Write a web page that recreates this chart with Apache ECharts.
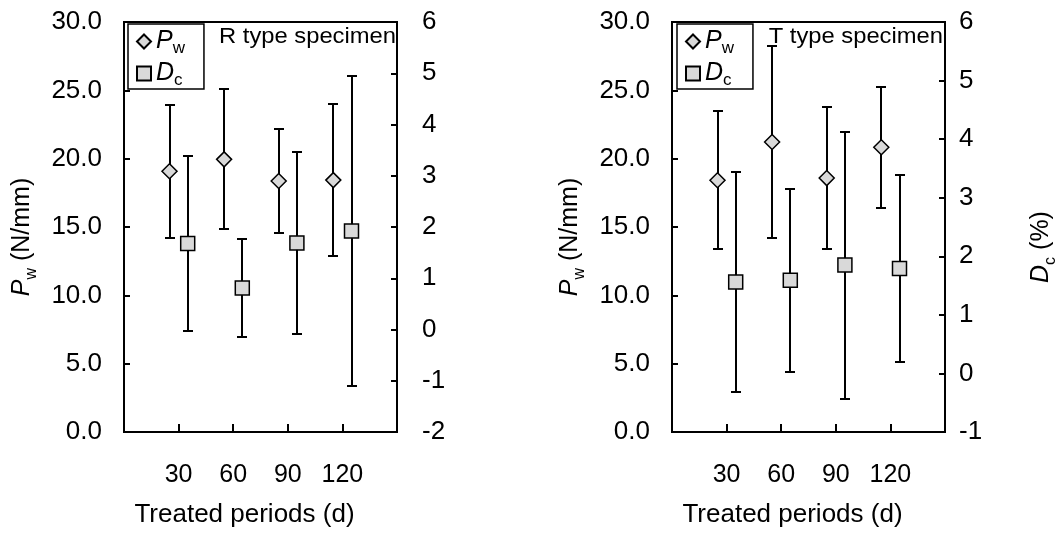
<!DOCTYPE html>
<html>
<head>
<meta charset="utf-8">
<script src="https://cdn.jsdelivr.net/npm/echarts@6/dist/echarts.min.js"></script>
<style>
  html, body { margin: 0; padding: 0; background: #fff; }
  #chart { width: 1062px; height: 535px; }
</style>
</head>
<body>
<div id="chart"></div>
<script>
// Treated periods (days)
const periods = [30, 60, 90, 120];

// R type specimen: peel strength Pw (N/mm) and change Dc (%), mean and spread
const rPwMean = [19.08, 19.95, 18.37, 18.43];
const rPwSd   = [4.85, 5.12, 3.83, 5.57];
const rDcMean = [1.68, 0.81, 1.69, 1.92];
const rDcSd   = [1.71, 0.96, 1.77, 3.02];

// T type specimen
const tPwMean = [18.42, 21.22, 18.58, 20.84];
const tPwSd   = [5.05, 7.05, 5.17, 4.43];
const tDcMean = [1.56, 1.59, 1.85, 1.79];
const tDcSd   = [1.88, 1.56, 2.28, 1.60];

const FONT = '"Liberation Sans", Arial, sans-serif';
const FILL = '#d9d9d9';
const SHIFT = 5; // Pw drawn left of each period, Dc to the right

// Italic symbol with a lowered subscript
const legendRich = {
  i: { fontStyle: 'italic', fontSize: 25, lineHeight: 28, fontFamily: FONT, color: '#000', verticalAlign: 'middle' },
  s: { fontSize: 17, lineHeight: 14, fontFamily: FONT, color: '#000', padding: [14, 0, 0, 0], verticalAlign: 'middle' }
};
const nameRich = {
  i: { fontStyle: 'italic', fontSize: 25, fontFamily: FONT, color: '#000', padding: [0, 0, 5, 0], verticalAlign: 'bottom' },
  s: { fontSize: 16, fontFamily: FONT, color: '#000', verticalAlign: 'bottom' },
  n: { fontSize: 25, fontFamily: FONT, color: '#000', padding: [0, 0, 5, 0], verticalAlign: 'bottom' }
};

// Vertical whisker with end caps, snapped to whole pixels so the 2px strokes stay crisp
function errRender(params, api) {
  const x = api.value(0), lo = api.value(1), hi = api.value(2);
  const a = api.coord([x, hi]), b = api.coord([x, lo]);
  const cx = Math.round(a[0]), ya = Math.round(a[1]), yb = Math.round(b[1]);
  const hw = 5;
  const style = { stroke: '#000', lineWidth: 2, fill: null };
  return {
    type: 'group',
    children: [
      { type: 'line', shape: { x1: cx, y1: ya, x2: cx, y2: yb }, style },
      { type: 'line', shape: { x1: cx - hw, y1: ya, x2: cx + hw, y2: ya }, style },
      { type: 'line', shape: { x1: cx - hw, y1: yb, x2: cx + hw, y2: yb }, style }
    ]
  };
}

const panels = [
  { left: 124, pw: [rPwMean, rPwSd], dc: [rDcMean, rDcSd], dcMin: -2, rightMargin: 25, rightName: '', legendLeft: 128 },
  { left: 672, pw: [tPwMean, tPwSd], dc: [tDcMean, tDcSd], dcMin: -1, rightMargin: 14, rightName: '{i|D}{s|c}{n| (%)}', legendLeft: 677 }
];

const grid = [], xAxis = [], yAxis = [], series = [], legend = [];

panels.forEach((p, k) => {
  grid.push({ left: p.left, top: 22, width: 273, height: 410, show: true, borderColor: '#000', borderWidth: 2, backgroundColor: 'transparent' });

  xAxis.push({
    gridIndex: k, type: 'value', min: 0, max: 150, interval: 30,
    axisLine: { show: true, lineStyle: { color: '#000', width: 2 } },
    axisTick: { show: true, inside: true, length: 8, lineStyle: { color: '#000', width: 2 } },
    axisLabel: { fontSize: 25, fontFamily: FONT, color: '#000', margin: 31,
      formatter: v => periods.indexOf(v) >= 0 ? String(v) : '' },
    splitLine: { show: false },
    name: 'Treated periods (d)', nameLocation: 'middle', nameGap: 70,
    nameTextStyle: { fontSize: 26, fontFamily: FONT, color: '#000', padding: [0, 32, 0, 0] }
  });

  yAxis.push({
    gridIndex: k, type: 'value', min: 0, max: 30, interval: 5, position: 'left',
    axisLine: { show: true, lineStyle: { color: '#000', width: 2 } },
    axisTick: { show: true, inside: true, length: 6, lineStyle: { color: '#000', width: 2 } },
    axisLabel: { fontSize: 26, fontFamily: FONT, color: '#000', margin: 22, formatter: v => v.toFixed(1) },
    splitLine: { show: false },
    name: '{i|P}{s|w}{n| (N/mm)}', nameLocation: 'middle', nameGap: 84, nameRotate: 90,
    nameTextStyle: { rich: nameRich, padding: [0, 20, 0, 0] }
  });

  yAxis.push({
    gridIndex: k, type: 'value', min: p.dcMin, max: 6, interval: 1, position: 'right',
    axisLine: { show: true, lineStyle: { color: '#000', width: 2 } },
    axisTick: { show: true, inside: true, length: 6, lineStyle: { color: '#000', width: 2 } },
    axisLabel: { fontSize: 26, fontFamily: FONT, color: '#000', margin: p.rightMargin },
    splitLine: { show: false },
    name: p.rightName, nameLocation: 'middle', nameGap: 84, nameRotate: 90,
    nameTextStyle: { rich: nameRich, padding: [0, 40, 0, 0] }
  });

  const yl = k * 2, yr = k * 2 + 1;
  const pwErr = periods.map((d, i) => [d - SHIFT, p.pw[0][i] - p.pw[1][i], p.pw[0][i] + p.pw[1][i]]);
  const dcErr = periods.map((d, i) => [d + SHIFT, p.dc[0][i] - p.dc[1][i], p.dc[0][i] + p.dc[1][i]]);

  series.push(
    { type: 'custom', xAxisIndex: k, yAxisIndex: yl, renderItem: errRender, data: pwErr, encode: { x: 0, y: [1, 2] }, clip: false, z: 1, silent: true },
    { type: 'custom', xAxisIndex: k, yAxisIndex: yr, renderItem: errRender, data: dcErr, encode: { x: 0, y: [1, 2] }, clip: false, z: 1, silent: true },
    { type: 'scatter', name: 'Pw', xAxisIndex: k, yAxisIndex: yl, symbol: 'diamond', symbolSize: 15,
      itemStyle: { color: FILL, borderColor: '#000', borderWidth: 1.5, opacity: 1 },
      data: periods.map((d, i) => [d - SHIFT, p.pw[0][i]]), z: 3 },
    { type: 'scatter', name: 'Dc', xAxisIndex: k, yAxisIndex: yr, symbol: 'rect', symbolSize: 14,
      itemStyle: { color: FILL, borderColor: '#000', borderWidth: 1.5, opacity: 1 },
      data: periods.map((d, i) => [d + SHIFT, p.dc[0][i]]), z: 3 }
  );

  legend.push({
    orient: 'vertical', left: p.legendLeft, top: 24,
    itemWidth: 14, itemHeight: 14, itemGap: 1,
    padding: [2, 19, 0, 8],
    borderColor: '#000', borderWidth: 1.5, backgroundColor: '#fff',
    selectedMode: false,
    data: ['Pw', 'Dc'],
    formatter: n => n === 'Pw' ? '{i|P}{s|w}' : '{i|D}{s|c}',
    textStyle: { rich: legendRich }
  });
});

const option = {
  animation: false,
  backgroundColor: '#fff',
  grid, xAxis, yAxis, series, legend,
  graphic: [
    { type: 'text', x: 396, y: 26, scaleX: 1.08, z: 10,
      style: { text: 'R type specimen', fontSize: 22, fontFamily: FONT, fill: '#000', align: 'right', verticalAlign: 'top' } },
    { type: 'text', x: 943, y: 26, scaleX: 1.08, z: 10,
      style: { text: 'T type specimen', fontSize: 22, fontFamily: FONT, fill: '#000', align: 'right', verticalAlign: 'top' } }
  ]
};

echarts.init(document.getElementById('chart'), null, { renderer: 'canvas' }).setOption(option);
</script>
</body>
</html>
